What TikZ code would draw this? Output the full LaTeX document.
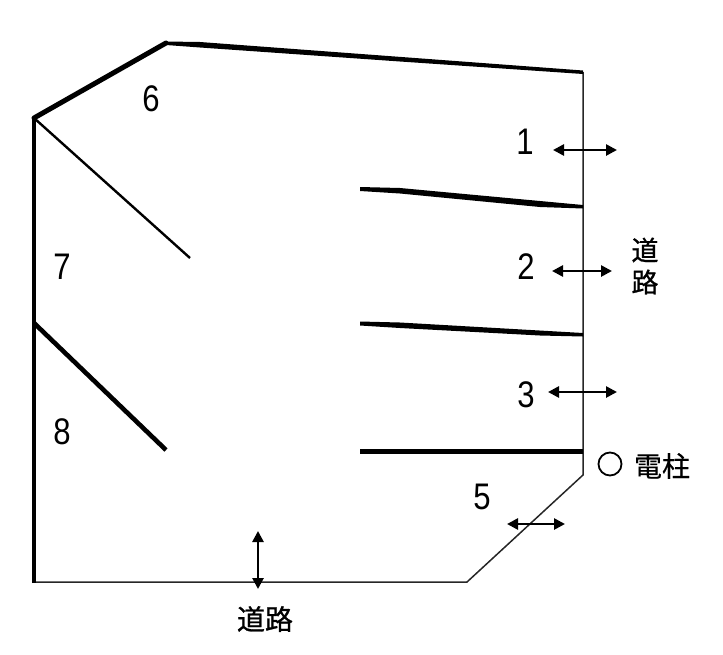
\documentclass[tikz,border=0pt]{standalone}
\usepackage{fontspec}
\setmainfont{Liberation Sans}
\newfontfamily\cjk[FakeBold=0.35]{Noto Sans CJK JP}
\newfontfamily\cjkroad[FakeBold=0.9]{Noto Sans CJK JP}
\usetikzlibrary{arrows.meta}
\tikzset{
  thinwall/.style={draw=black!85,line width=1.5pt,line join=miter},
  thickwall/.style={draw=black,line width=4.2pt},
  taper/.style={fill=black,draw=none},
  numlabel/.style={font=\fontsize{37}{37}\selectfont,inner sep=0pt,xscale=0.84},
  jplabel/.style={font=\cjk\fontsize{28}{28}\selectfont,inner sep=0pt},
  roadlabel/.style={font=\cjkroad\fontsize{28}{28}\selectfont,inner sep=0pt},
  access/.style={draw=black,line width=2.6pt,{Stealth[length=11pt,width=11pt,inset=0pt]}-{Stealth[length=11pt,width=11pt,inset=0pt]},shorten >=-1pt,shorten <=-1pt},
}
\begin{document}
\begin{tikzpicture}[x=1pt,y=-1pt]
\useasboundingbox (0,0) rectangle (723,654);
\coordinate (A) at (34,118);
\coordinate (B) at (166,43);
\coordinate (C) at (583,72);
\coordinate (D) at (583,475);
\coordinate (E) at (467,582);
\coordinate (F) at (34,582);
% outline
\draw[thinwall] (C) -- (D) -- (E) -- (F);
\draw[thickwall,line cap=butt] (34,583) -- (A);
\draw[thickwall,line width=5pt,line cap=round] (A) -- (B);
\fill[taper] (166,41.5) -- (200,42) -- (583,70.5) -- (583,74) -- (400,61.5) -- (200,47.5) -- (166,45) -- cycle;
% inner walls
\coordinate (W6a) at (34,118);
\coordinate (W6b) at (190,258);
\draw[draw=black,line width=2.4pt] (W6a) -- (W6b);
\coordinate (W8a) at (34,323);
\coordinate (W8b) at (166,450);
\draw[thickwall,line width=4.6pt] (W8a) -- (W8b);
\fill[taper] (360,187) -- (400,188) -- (583,205) -- (583,208.5) -- (540,207) -- (400,193.5) -- (360,191) -- cycle;
\fill[taper] (360,321.5) -- (400,322.5) -- (583,333) -- (583,336.5) -- (540,335.5) -- (400,328) -- (360,325.5) -- cycle;
\coordinate (W3a) at (360,451);
\coordinate (W3b) at (583,451);
\draw[thickwall,line width=5pt] (W3a) -- (W3b);
% numbers
\node[numlabel] (n1) at (525,142) {1};
\node[numlabel] (n2) at (526,267) {2};
\node[numlabel] (n3) at (526,395) {3};
\node[numlabel] (n5) at (482,497) {5};
\node[numlabel] (n6) at (151,99) {6};
\node[numlabel] (n7) at (62,267) {7};
\node[numlabel] (n8) at (62,432) {8};
% arrows
\coordinate (a1l) at (554,150); \coordinate (a1r) at (616,150);
\coordinate (a2l) at (553,271); \coordinate (a2r) at (611,271);
\coordinate (a3l) at (549,392); \coordinate (a3r) at (616,392);
\coordinate (a5l) at (508,524); \coordinate (a5r) at (564,524);
\coordinate (a0t) at (258,532); \coordinate (a0b) at (258,588);
\draw[access] (a1l) -- (a1r);
\draw[access] (a2l) -- (a2r);
\draw[access] (a3l) -- (a3r);
\draw[access] (a5l) -- (a5r);
\draw[access] (a0t) -- (a0b);
% road labels
\node[roadlabel,font=\cjkroad\fontsize{27}{27}\selectfont] (road1a) at (645,250) {道};
\node[roadlabel,font=\cjkroad\fontsize{27}{27}\selectfont] (road1b) at (645,282) {路};
\node[roadlabel] (road2) at (265,619) {道路};
\node[draw=black,line width=1.8pt,circle,minimum size=23pt,inner sep=0pt] (pole) at (610,464) {};
\node[jplabel] (poletext) at (662,466) {電柱};
\end{tikzpicture}
\end{document}
